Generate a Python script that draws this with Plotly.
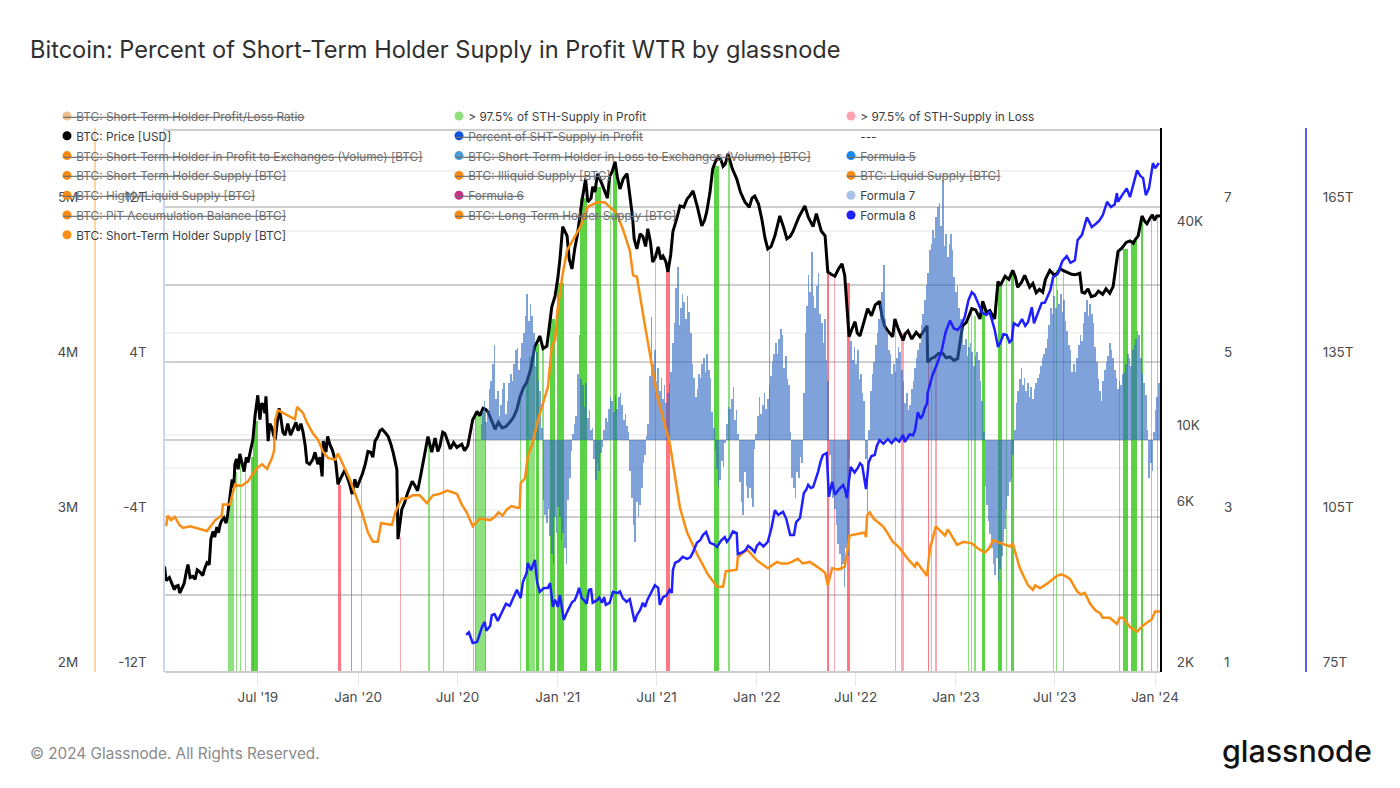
import numpy as np
import pandas as pd
import plotly.graph_objects as go

# the page keeps its 8px body margin, so the figure is sized to fit inside it
PAGE_MARGIN = 8
W, H = 1400 - 2 * PAGE_MARGIN, 788 - 2 * PAGE_MARGIN
START = pd.Timestamp("2019-01-11")
END_DAY = 1825

# days counted from START
PRICE_DAYS = [0,3,14,21,28,36,43,47,52,65,74,82,85,89,96,102,109,116,124,129,135,138,146,153,162,166,171,175,181,186,190,197,203,210,217,226,236,254,261,272,281,289,291,303,314,318,327,335,344,349,358,368,373,382,386,399,410,419,426,428,435,445,454,464,474,483,490,496,501,510,519,536,556,565,573,584,593,606,619,633,646,652,664,679,688,701,710,716,725,730,738,747,752,765,772,776,789,794,807,816,826,835,848,853,861,866,872,877,886,895,905,914,923,932,945,958,969,985,994,1005,1015,1024,1033,1049,1064,1082,1095,1106,1119,1128,1141,1152,1174,1189,1211,1216,1229,1242,1247,1255,1266,1275,1289,1311,1320,1335,1339,1354,1363,1385,1398,1399,1412,1427,1440,1454,1463,1480,1495,1500,1513,1522,1528,1541,1555,1564,1577,1586,1610,1623,1647,1678,1682,1693,1706,1739,1748,1770,1785,1792,1797,1806,1819,1825]
PRICE_K = [4.1,3.72,3.65,3.58,3.42,3.65,4.15,3.8,3.83,3.94,4.05,4.15,4.93,5.2,5.35,5.45,5.7,5.85,7.4,8.2,7.92,8.8,7.8,8.3,9.7,11.4,13.1,11.1,12.3,13.0,9.6,10.5,9.7,12.0,10.2,10.8,10.5,10.2,8.3,8.48,8.2,7.55,9.6,9.4,8.3,7.15,7.7,7.5,6.7,7.4,7.3,8.2,8.95,8.6,9.6,10.4,9.9,8.9,7.92,4.93,6.04,6.7,7.3,6.85,8.3,9.9,8.9,9.8,8.95,10.2,9.6,9.2,9.3,11.1,11.75,12.0,11.7,10.4,10.5,10.9,11.9,13.0,14.3,18.3,19.6,18.3,23.9,25.7,33.1,41.2,38.7,30.9,35.4,48.7,57,48.7,52.1,59,52.5,57.8,64,53.2,59,51.3,37.9,35.4,39.2,38.5,40.6,32.4,35.9,33.7,30.3,39.8,47.4,49.7,52.5,41.4,45.5,61,66.2,62,67.5,57,48.7,50.7,43.4,35.4,38.7,44.3,37.9,39.8,47.4,41.2,38.7,30.3,29.4,32.0,29.6,19.5,21.6,19.6,23.6,24.8,21.0,19.5,22.0,19.0,20.3,19.5,21.0,16.4,17.0,17.4,17.0,16.8,21.0,23.6,22.0,24.8,23.3,22.0,28.4,29.4,30.6,27.3,29.6,27.3,26.4,30.6,30.6,30.0,26.4,27.0,25.8,27.4,34.8,37.4,38.7,44.3,42.7,43.4,44.3,44.3]
# smaller swings of the price, read separately
PRICE_DAYS_FINE = [9,18,25,40,56,60,70,78,92,99,105,113,120,127,132,142,150,157,178,184,193,200,207,213,221,231,241,245,250,258,266,276,285,296,299,308,322,331,339,353,363,378,391,395,404,415,440,450,459,469,479,505,514,524,530,545,550,560,569,578,589,600,612,626,640,658,672,684,694,705,721,742,757,761,782,785,800,812,821,830,841,858,882,891,900,910,919,928,940,952,964,977,990,1000,1010,1020,1028,1041,1056,1072,1077,1089,1101,1112,1124,1135,1147,1163,1180,1195,1204,1222,1236,1260,1270,1282,1296,1303,1315,1327,1345,1358,1370,1378,1392,1405,1419,1433,1447,1470,1487,1507,1532,1548,1560,1571,1581,1592,1598,1604,1615,1630,1637,1642,1655,1663,1670,1687,1699,1712,1720,1726,1733,1743,1755,1763,1776,1780,1788,1801,1811,1815]
PRICE_K_FINE = [3.8,3.5,3.6,3.95,3.75,4.0,3.85,4.2,5.0,5.15,5.6,5.5,6.5,7.0,8.5,8.2,8.6,8.9,12.4,11.6,10.8,10.0,11.0,11.3,10.0,10.0,10.9,10.3,10.8,9.3,8.2,8.9,8.6,8.9,9.9,9.0,7.4,7.9,7.2,7.0,7.7,8.9,9.9,10.3,10.2,9.4,6.3,7.0,7.1,7.5,9.3,9.3,10.1,9.1,9.5,9.4,9.0,10.2,11.4,11.4,11.9,11.0,10.9,10.6,11.3,13.8,15.8,18.9,18.0,20.5,29,33,39,44,50,54,56,50,60,58,57,44,36,37,33.5,33,32.5,34,44,47,51,47,43,52,64,65,63,61,52,47,50,48,38,36,42,41,38.5,44,44,45,40,29.8,31,20.5,20,21.5,22.5,24.2,22.6,20.2,20.6,19.9,19.2,20.1,20.4,16.8,17.4,16.9,16.6,21.5,23.4,23.0,27.6,28.8,29.2,28.2,28.6,28,26.3,26.9,28.8,29.7,30.0,31,30.2,29.8,29.7,26.2,25.6,26.6,26.0,27,26.2,30.5,35.6,37.0,36.8,37.8,41,42,44.6,43]

SUPPLY_DAYS = [3,6,19,34,47,78,93,105,107,120,129,153,171,179,188,197,201,203,208,239,243,254,261,291,313,318,340,362,373,382,391,397,417,423,435,455,481,492,518,536,554,565,578,597,628,646,651,653,661,666,675,685,703,710,716,721,730,738,749,762,776,793,807,829,840,853,859,866,881,904,926,932,945,958,978,996,1013,1024,1029,1049,1051,1068,1086,1106,1123,1143,1161,1183,1211,1216,1224,1235,1247,1256,1284,1286,1288,1293,1317,1335,1354,1376,1379,1398,1403,1409,1414,1431,1436,1453,1480,1504,1519,1550,1555,1568,1583,1592,1596,1605,1618,1636,1651,1673,1687,1706,1715,1720,1733,1746,1751,1757,1770,1783,1794,1810,1816,1825]
SUPPLY_M = [2.94,3.01,3.0,2.93,2.94,2.91,2.98,3.01,3.08,3.08,3.21,3.23,3.32,3.34,3.31,3.38,3.43,3.63,3.69,3.63,3.71,3.67,3.61,3.42,3.37,3.41,3.24,3.03,2.9,2.84,2.84,2.96,2.95,3.03,3.12,3.14,3.09,3.14,3.17,3.15,3.03,2.94,2.99,2.98,3.05,3.06,3.06,3.22,3.25,3.39,3.48,3.63,3.84,4.1,4.14,4.35,4.57,4.72,4.79,4.87,5.0,5.03,5.03,4.96,4.86,4.72,4.56,4.55,4.23,3.77,3.48,3.35,3.06,2.9,2.75,2.63,2.55,2.55,2.65,2.66,2.74,2.79,2.72,2.67,2.71,2.7,2.73,2.71,2.64,2.56,2.67,2.66,2.68,2.88,2.9,2.87,3.01,3.03,2.94,2.84,2.77,2.68,2.71,2.62,2.79,2.87,2.94,2.88,2.92,2.82,2.83,2.77,2.85,2.81,2.83,2.67,2.56,2.53,2.56,2.54,2.57,2.62,2.62,2.52,2.51,2.4,2.38,2.35,2.35,2.31,2.35,2.35,2.29,2.26,2.3,2.34,2.39,2.39]
SUPPLY_DAYS_FINE = [12,27,58,68,141,162,225,272,281,300,445,468,505,527,545,605,612,620,636,1130,1150,1170,1196,1300,1325,1345,1365,1465,1490,1512,1535,1644,1660,1680,1697]
SUPPLY_M_FINE = [2.98,2.95,2.93,2.92,3.2,3.28,3.66,3.54,3.5,3.38,3.12,3.14,3.15,3.16,3.08,3.0,3.03,3.01,3.07,2.7,2.71,2.7,2.68,2.99,2.9,2.81,2.72,2.84,2.8,2.8,2.83,2.63,2.6,2.5,2.44]

F8_DAYS = [553,558,565,573,582,587,597,600,611,620,633,646,653,657,664,666,672,679,683,688,703,707,712,721,725,732,743,752,760,765,774,778,782,785,802,806,809,816,822,831,840,853,859,862,872,881,890,899,905,908,914,926,930,932,936,950,958,969,976,987,993,1000,1013,1027,1036,1049,1051,1060,1070,1082,1091,1106,1119,1125,1134,1147,1154,1158,1165,1172,1180,1189,1198,1207,1214,1218,1224,1229,1244,1251,1258,1271,1279,1286,1291,1302,1311,1326,1333,1354,1357,1376,1381,1390,1398,1399,1408,1425,1440,1454,1467,1480,1491,1507,1517,1528,1544,1553,1557,1583,1590,1594,1608,1619,1629,1654,1669,1674,1682,1691,1700,1720,1728,1735,1746,1748,1764,1770,1783,1794,1799,1805,1812,1816,1823]
F8_T = [82.2,82.7,80.6,80.8,83.7,84.7,83.9,86,84.9,87,87.8,90.9,89.3,92.4,94.2,96.1,94.7,96.7,92.4,90.5,91.3,92.2,87.6,87.6,89.9,85.1,87.6,88.9,91.3,89.3,88.2,90.9,91,88.4,88.4,89.5,88,88.4,90.5,90.3,89.3,89.1,86.4,84.7,87,87.6,89.9,91.8,91.3,88,89.5,90.9,90.3,94.7,96.1,97.3,96.9,98.2,100,101.5,102.1,100,99.2,101.1,100.9,101.9,97.8,98.2,99.4,98.2,100,100.2,106.3,105.4,106,101.5,101.5,104,104.8,109.6,111.2,110.8,113.7,117,117.4,108.9,111.8,109.3,111.2,108.7,114.7,114.5,115,110.4,115.6,117,119.9,120.1,119.3,120.9,119.5,121.8,125.3,124.7,127,129,132.5,137.3,143,141.2,143.7,148.5,146.4,144.1,143.1,137.9,140.2,139.2,142.5,142.7,145.6,142.5,146.4,147.6,151.4,155.5,154.7,158.6,159.6,163,161.1,163.4,166,165,167.7,166,168.6,166.9,172.1,170.6,167.3,168.7,173.5,172.5,173.5]
F8_DAYS_FINE = [590,605,615,626,640,695,716,738,747,756,769,793,797,835,847,866,877,885,895,920,943,964,982,1007,1020,1031,1042,1065,1076,1086,1098,1113,1140,1177,1185,1194,1203,1236,1248,1265,1275,1296,1306,1318,1340,1347,1366,1372,1386,1394,1416,1432,1447,1460,1474,1485,1499,1512,1522,1533,1538,1549,1565,1572,1578,1601,1614,1624,1637,1646,1661,1696,1708,1714,1742,1755,1777,1789]
F8_T_FINE = [83,86.2,85.8,88.2,89.5,91.2,89,86.6,88.5,89.9,88.9,88.9,89.4,90.6,88.6,86,88.4,88.9,91,89.8,96.5,97.2,100.5,99.7,100.4,100.2,102.2,98.6,98.9,99.4,99.3,103,104.6,110.4,110.6,112.4,115.8,110.3,110.2,113.6,115.4,116.8,118.8,119.2,120.2,119.6,121,120.8,124,126.1,134.5,140.8,141.5,142,147,148,144.5,144.8,141.2,138.9,140.4,138.8,142,143.3,142,144.6,146.5,148.9,152,154.5,154.2,162,161.8,162.4,165.5,167.2,169.8,171]

# one value every 3 days from day 580
F7_FIRST_DAY = 580
F7_STEP = 3
F7_T = [0.8,1.4,2.0,0.9,1.5,2.6,3.0,3.9,4.9,2.1,2.5,1.2,1.8,2.6,2.9,1.3,2.0,2.9,3.4,3.0,3.9,4.6,4.7,3.6,4.2,5.0,5.5,6.4,7.5,6.1,7.0,6.4,5.5,3.8,4.5,3.0,2.5,0.6,-3.1,-3.9,-4.3,-3.6,-5.0,-5.9,-6.4,-4.0,-4.8,-3.5,-4.0,-5.2,-4.8,-5.6,-6.4,-3.1,-2.0,-0.6,0.3,0.8,1.2,3.4,5.4,3.1,2.8,1.7,2.9,1.1,1.5,0.5,0.6,-1.0,-2.1,-1.2,-1.6,-0.7,-0.4,0.5,1.1,0.9,1.6,2.2,2.0,1.4,2.3,1.6,2.2,2.4,1.8,1.0,1.3,0.7,0.4,-1.6,-3.0,-4.4,-5.3,-3.2,-4.0,-3.4,-2.5,-1.2,-0.8,0.2,0.8,3.3,6.3,3.9,4.6,3.0,3.7,2.5,3.2,2.1,2.8,1.9,2.4,2.9,3.5,5.0,6.0,7.8,8.9,5.9,6.8,7.5,7.1,6.2,7.4,6.6,5.5,3.9,3.2,2.2,2.6,3.4,3.2,3.9,4.2,3.5,4.4,3.6,3.2,1.4,0.6,-0.6,-1.5,-2.4,-2.1,-1.1,-1.4,-0.2,0.8,1.7,1.6,2.1,2.7,1.0,1.5,0.3,-2.2,-3.2,-3.9,-1.7,-2.4,-3.0,-2.5,-3.0,-3.5,-0.5,0.3,1.2,2.2,1.3,1.8,2.4,1.6,2.1,2.8,3.3,4.0,4.4,5.0,4.4,5.2,5.7,5.4,3.7,4.3,3.1,2.8,0.4,-2.0,-2.5,-3.0,-1.7,-2.0,-0.9,-1.2,2.4,5.5,6.9,8.5,7.6,9.7,7.4,6.8,7.9,8.6,6.5,6.0,5.0,6.2,4.1,3.0,-0.8,-2.5,-3.0,-3.6,-4.4,-5.4,-5.9,-6.8,-6.4,-7.6,-5.6,-6.0,-1.0,5.1,4.1,4.8,3.9,4.6,3.1,3.4,2.4,2.0,-1.0,-3.8,0.5,2.5,3.4,4.0,4.9,5.5,6.2,7.0,7.6,9.0,6.2,5.6,4.6,4.4,3.4,3.9,3.5,4.2,4.8,4.5,3.6,3.0,1.9,2.4,1.5,1.8,2.6,3.0,3.7,4.2,4.6,5.0,5.9,6.5,7.2,8.0,8.6,9.8,10.1,10.8,10.4,11.5,12.0,12.2,11.0,13.4,10.0,10.6,9.4,10.1,10.6,9.8,8.4,7.6,7.9,6.8,6.2,5.8,4.9,5.2,4.3,4.8,5.0,4.5,3.8,4.3,4.5,4.1,3.0,2.0,0.4,-2.4,-3.4,-4.2,-4.9,-5.6,-6.4,-7.0,-6.1,-7.3,-6.7,-6.0,-5.3,-4.6,-3.6,-2.9,-2.2,-2.0,-0.8,0.5,1.9,2.5,3.1,3.7,2.8,3.2,2.5,2.9,2.2,2.7,2.1,2.6,2.9,3.2,3.4,3.8,4.2,4.4,4.7,5.2,5.9,6.8,6.5,7.4,6.8,7.7,7.0,7.5,6.6,7.2,6.1,5.6,4.9,4.6,3.5,3.9,3.5,4.2,4.9,5.4,5.1,6.0,6.6,7.2,6.4,7.0,6.5,6.0,4.8,4.0,3.1,2.5,2.0,3.0,3.6,4.0,4.3,5.0,4.6,4.2,3.6,3.2,2.6,3.0,2.8,3.4,3.5,3.9,4.4,4.2,3.8,4.6,4.9,5.2,5.6,5.4,4.2,3.4,2.9,2.3,0.5,-2.0,-1.2,-1.6,0.4,1.5,2.2,2.9]

# signal bands: first day, length in days, price reached. Dense spells are listed twice
GREEN_DAY = [116,120,130,137,146,157,157,162,162,483,510,564,568,568,587,650,661,661,668,681,681,692,706,706,719,719,761,761,789,789,816,821,821,1006,1006,1033,1472,1478,1484,1498,1498,1527,1527,1541,1551,1551,1627,1634,1646,1748,1756,1756,1771,1771,1790,1790,1808,1819]
GREEN_LEN = [2.4,7.3,2,2,2,6,6,8,8,2,2,3,20,1.5,1.5,2.5,6,6,11,5.5,5.5,2,9,9,12,12,13,13,10,10,2,7,7,9,9,3,2,2,2,5,5,7,7,2.5,6,6,2,2,2,3,10,10,10,10,3,3,2,2]
GREEN_TOP = [5.85,6.5,7.8,8.5,7.8,8.6,8.6,11,11,9.5,10,10.5,11.7,11.5,12,13,14.5,14.5,17,18.5,18.5,18.3,22,22,28,28,50,50,54,54,57,62,62,62,62,66,21.5,23,22.5,24,24,28,28,29.4,30,30,30.6,30.6,30.6,34.8,35.5,35.5,37.5,37.5,43,43,43,44]
RED_DAY = [31,318,318,341,341,360,430,899,919,919,1108,1108,1214,1214,1226,1235,1250,1250,1338,1350,1399,1399,1404,1412]
RED_LEN = [1,4,4,2.4,2.4,1.5,2,1.5,6.5,6.5,1.5,1.5,4,4,1.5,1.5,6,6,1.5,5,2,2,1.5,2.5]
RED_TOP = [3.42,7.1,7.1,6.7,6.7,7.3,5,33,31,31,35,35,31,31,29.4,31,28,28,21,20,16.4,16.4,16.6,17]

X_TICKS = ["2019-07-01","2020-01-01","2020-07-01","2021-01-01","2021-07-01","2022-01-01","2022-07-01","2023-01-01","2023-07-01","2024-01-01"]
X_LABELS = ["Jul '19","Jan '20","Jul '20","Jan '21","Jul '21","Jan '22","Jul '22","Jan '23","Jul '23","Jan '24"]

PRICE_TICKS = [2000,4000,6000,8000,10000,20000,40000,60000]
PRICE_TEXT = ["2K","","6K","","10K","","40K",""]
SUPPLY_TICKS = [2e6,3e6,4e6,5e6]
SUPPLY_TEXT = ["2M","3M","4M","5M"]
F7_TICKS = [-12e12,-8e12,-4e12,0,4e12,8e12,12e12,16e12]
F7_TEXT = ["-12T","","-4T","","4T","","12T",""]
RATIO_TICKS = [1,3,5,7]
F8_TICKS = [75e12,105e12,135e12,165e12]
F8_TEXT = ["75T","105T","135T","165T"]

LEGEND_COLS = [
    [("BTC: Short-Term Holder Profit/Loss Ratio","#edc08c",0),("BTC: Price [USD]","#000000",1),
     ("BTC: Short-Term Holder in Profit to Exchanges (Volume) [BTC]","#f68a12",0),
     ("BTC: Short-Term Holder Supply [BTC]","#f68a12",0),("BTC: Highly Liquid Supply [BTC]","#f68a12",0),
     ("BTC: PiT Accumulation Balance [BTC]","#f68a12",0),("BTC: Short-Term Holder Supply [BTC]","#f98e14",1)],
    [("&gt; 97.5% of STH-Supply in Profit","#8fe07c",1),("Percent of SHT-Supply in Profit","#0b50e0",0),
     ("BTC: Short-Term Holder in Loss to Exchanges (Volume) [BTC]","#4b9bd8",0),
     ("BTC: Illiquid Supply [BTC]","#f68a12",0),("Formula 6","#c8308a",0),
     ("BTC: Long-Term Holder Supply [BTC]","#f68a12",0)],
    [("&gt; 97.5% of STH-Supply in Loss","#ffa3b0",1),("---",None,1),("Formula 5","#1488f0",0),
     ("BTC: Liquid Supply [BTC]","#f68a12",0),("Formula 7","#abc2e8",1),("Formula 8","#1f1fff",1)],
]
LEGEND_X = [67, 459, 851]
LEGEND_Y0 = 117
LEGEND_ROW = 19.8


def px(x):
    return (x - PAGE_MARGIN) / W


def py(y):
    return 1 - (y - PAGE_MARGIN) / H


def days(d):
    return START + pd.to_timedelta(np.asarray(d, dtype=float), unit="D")


def merged(day_lists, value_lists, scale):
    d = np.concatenate(day_lists)
    v = np.concatenate(value_lists) * scale
    order = np.argsort(d, kind="stable")
    return days(d[order]), v[order]


def band_trace(first, length, top, color):
    first = np.array(first, dtype=float)
    length = np.array(length, dtype=float)
    return go.Bar(x=days(first + length / 2), y=np.array(top) * 1000, width=length * 86400000,
                  marker=dict(color=color, line=dict(width=0)), yaxis="y", showlegend=False)


fig = go.Figure()
fig.add_trace(band_trace(GREEN_DAY, GREEN_LEN, GREEN_TOP, "rgba(50,200,20,0.55)"))
fig.add_trace(band_trace(RED_DAY, RED_LEN, RED_TOP, "rgba(255,60,80,0.45)"))
x, y = merged([PRICE_DAYS, PRICE_DAYS_FINE], [PRICE_K, PRICE_K_FINE], 1000)
fig.add_trace(go.Scatter(x=x, y=y, mode="lines", yaxis="y",
                         line=dict(color="#000000", width=3), name="BTC: Price [USD]"))

f7_days = F7_FIRST_DAY + F7_STEP * np.arange(len(F7_T))
fig.add_trace(go.Bar(x=days(f7_days), y=np.array(F7_T) * 1e12, width=F7_STEP * 86400000, yaxis="y2",
                     marker=dict(color="rgba(50,105,195,0.62)", line=dict(width=0)), name="Formula 7"))
x, y = merged([SUPPLY_DAYS, SUPPLY_DAYS_FINE], [SUPPLY_M, SUPPLY_M_FINE], 1e6)
fig.add_trace(go.Scatter(x=x, y=y, mode="lines", yaxis="y3",
                         line=dict(color="#f98e14", width=2.5), name="BTC: Short-Term Holder Supply [BTC]"))
fig.add_trace(go.Scatter(x=[START], y=[RATIO_TICKS[0]], mode="none", yaxis="y4", showlegend=False))
x, y = merged([F8_DAYS, F8_DAYS_FINE], [F8_T, F8_T_FINE], 1e12)
fig.add_trace(go.Scatter(x=x, y=y, mode="lines", yaxis="y5",
                         line=dict(color="#1f1fff", width=2.5), name="Formula 8"))

font = dict(family="Inter", size=13.5, color="#4a4a4a")
top_px, bottom_px = 128, 672
span = bottom_px - top_px
common = dict(tickfont=font, ticks="", ticklabelposition="outside top",
              zeroline=False, fixedrange=True)


def linear_range(bottom, per_px):
    return [bottom, bottom + span * per_px]


fig.update_layout(
    width=W, height=H, margin=dict(l=0, r=0, t=0, b=0, autoexpand=False),
    paper_bgcolor="white", plot_bgcolor="white", showlegend=False, barmode="overlay", bargap=0,
    title=dict(text="Bitcoin: Percent of Short-Term Holder Supply in Profit WTR by glassnode",
               x=px(30), xanchor="left", y=py(50), yanchor="middle",
               font=dict(family="Inter", size=23.6, color="#2f2f2f")),
    xaxis=dict(domain=[px(164.5), px(1160)], range=[START, days([END_DAY])[0]], type="date",
               tickvals=X_TICKS, ticktext=X_LABELS, tickfont=font, ticks="outside", ticklen=13,
               tickcolor="#e6e6e6", showgrid=False, showline=True, linecolor="#cccccc", linewidth=2,
               anchor="free", position=py(bottom_px), zeroline=False),
    yaxis=dict(domain=[py(bottom_px), py(top_px)], type="log",
               range=[np.log10(2000), np.log10(2000) + span / 339], side="right", anchor="x",
               tickvals=PRICE_TICKS, ticktext=PRICE_TEXT, ticklabelstandoff=12, showline=True,
               linecolor="#000000", linewidth=2, showgrid=True, gridcolor="#f3f3f3", gridwidth=2, **common),
    yaxis2=dict(overlaying="y", side="left", anchor="x", range=linear_range(-12e12, 8e12 / 155),
                tickvals=F7_TICKS, ticktext=F7_TEXT, ticklabelstandoff=13, showline=True,
                linecolor="#c8d7f0", linewidth=2, showgrid=True, gridcolor="#cfcfcf", gridwidth=1.5, **common),
    yaxis3=dict(overlaying="y", side="left", anchor="free", position=px(95),
                range=linear_range(2e6, 1e6 / 155), tickvals=SUPPLY_TICKS, ticktext=SUPPLY_TEXT,
                ticklabelstandoff=13, showline=True, linecolor="#fbd5a8", linewidth=2, showgrid=False, **common),
    yaxis4=dict(overlaying="y", side="right", anchor="free", position=px(1212),
                range=linear_range(1, 2 / 155), tickvals=RATIO_TICKS, ticklabelstandoff=11,
                showline=False, showgrid=False, **common),
    yaxis5=dict(overlaying="y", side="right", anchor="free", position=px(1306),
                range=linear_range(75e12, 30e12 / 155), tickvals=F8_TICKS, ticktext=F8_TEXT,
                ticklabelstandoff=13, showline=True, linecolor="#5a5af2", linewidth=2, showgrid=False, **common),
)

notes = []
dots = []
for col, lx in zip(LEGEND_COLS, LEGEND_X):
    for row, (label, color, on) in enumerate(col):
        ly = LEGEND_Y0 + LEGEND_ROW * row
        f = dict(family="Inter", size=11.8, color="#3c3c3c" if on else "#6f6f6f")
        if not on:
            f["lineposition"] = "through"
        pad = "\u00a0" * 4
        notes.append(dict(text=pad + label, x=px(lx - 6.5), y=py(ly), xref="paper", yref="paper",
                          xanchor="left", yanchor="middle", showarrow=False, font=f))
        if color:
            dots.append(dict(type="circle", xref="paper", yref="paper", x0=px(lx - 4.5), x1=px(lx + 4.5),
                             y0=py(ly - 1 + 4.5), y1=py(ly - 1 - 4.5), fillcolor=color, line=dict(width=0)))

notes.append(dict(text="© 2024 Glassnode. All Rights Reserved.", x=px(28), y=py(753), xref="paper",
                  yref="paper", xanchor="left", yanchor="middle", showarrow=False,
                  font=dict(family="Inter", size=15.3, color="#8a8a8a")))
notes.append(dict(text="glassnode", x=px(1374), y=py(751), xref="paper", yref="paper",
                  xanchor="right", yanchor="middle", showarrow=False,
                  font=dict(family="Inter", size=30.4, color="#111111", weight=500)))
fig.update_layout(annotations=notes, shapes=dots)

fig.write_html("out.html")
